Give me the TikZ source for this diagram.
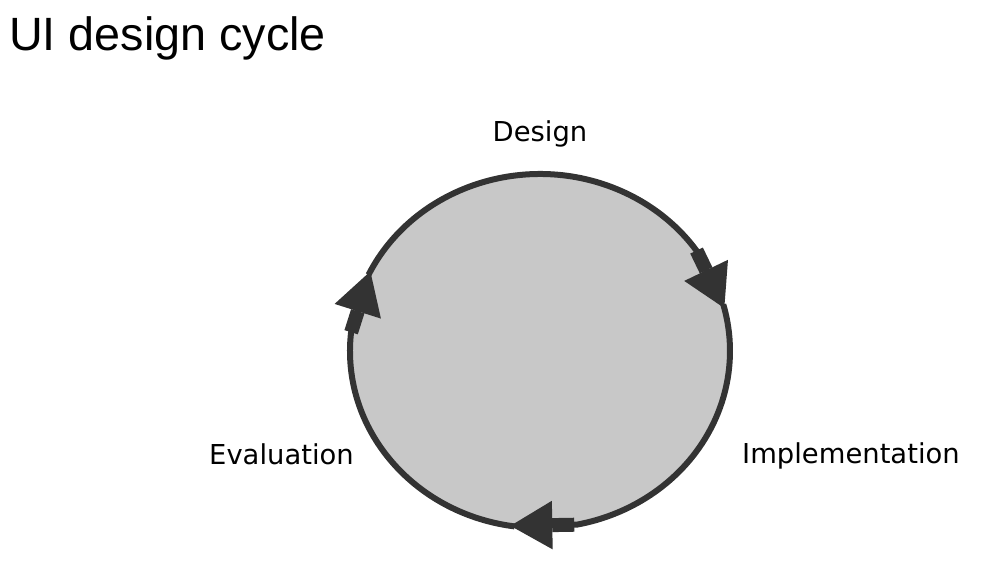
\documentclass[tikz,border=0pt]{standalone}
\usepackage{fontspec}
\usepackage{tikz}
\usetikzlibrary{arrows.meta}
\newfontfamily\titlefont{Liberation Sans}
\newfontfamily\labelfont{DejaVu Sans}
\definecolor{cycledark}{HTML}{333333}
\definecolor{cyclefill}{HTML}{C8C8C8}
\tikzset{
    cyclearc/.style={draw=cycledark, line width=6pt, line join=round,
        -{Rectangle[length=22pt,width=14pt,sep=0pt]Triangle[length=42pt,width=47pt,sep=0pt]}},
    phase/.style={inner sep=0pt, font=\labelfont\fontsize{27.4}{31}\selectfont}
}

\begin{document}
\begin{tikzpicture}[x=1pt, y=1pt]
    \useasboundingbox (0,0) rectangle (983,-576);
    \node[anchor=base west, inner sep=0pt, font=\titlefont\fontsize{46.7}{50}\selectfont] (title) at (9,-50) {UI design cycle};
    % the cycle
    \coordinate (c) at (540,-351);
    \fill[cyclefill] (c) ellipse [x radius=190, y radius=177];
    \path (c) ++(153.2:190 and 177) coordinate (tEva)
          (c) ++(14:190 and 177) coordinate (tDes)
          (c) ++(-99:190 and 177) coordinate (tImp);
    \path (c) ++(154.5:190 and 177) coordinate (sDes)
          (c) ++(15.3:190 and 177) coordinate (sImp)
          (c) ++(-97.7:190 and 177) coordinate (sEva);
    \draw[cyclearc] (sDes) arc[start angle=154.5, end angle=34.4, x radius=190, y radius=177] -- (tDes);
    \draw[cyclearc] (sImp) arc[start angle=15.3, end angle=-78.9, x radius=190, y radius=177] -- (tImp);
    \draw[cyclearc] (sEva) arc[start angle=-97.7, end angle=-186, x radius=190, y radius=177] -- (tEva);
    % phases
    \node[phase, anchor=base] (design) at (540,-141) {Design};
    \node[phase, anchor=base west] (impl) at (742,-463) {Implementation};
    \node[phase, anchor=base west] (eval) at (209,-464) {Evaluation};
\end{tikzpicture}
\end{document}
